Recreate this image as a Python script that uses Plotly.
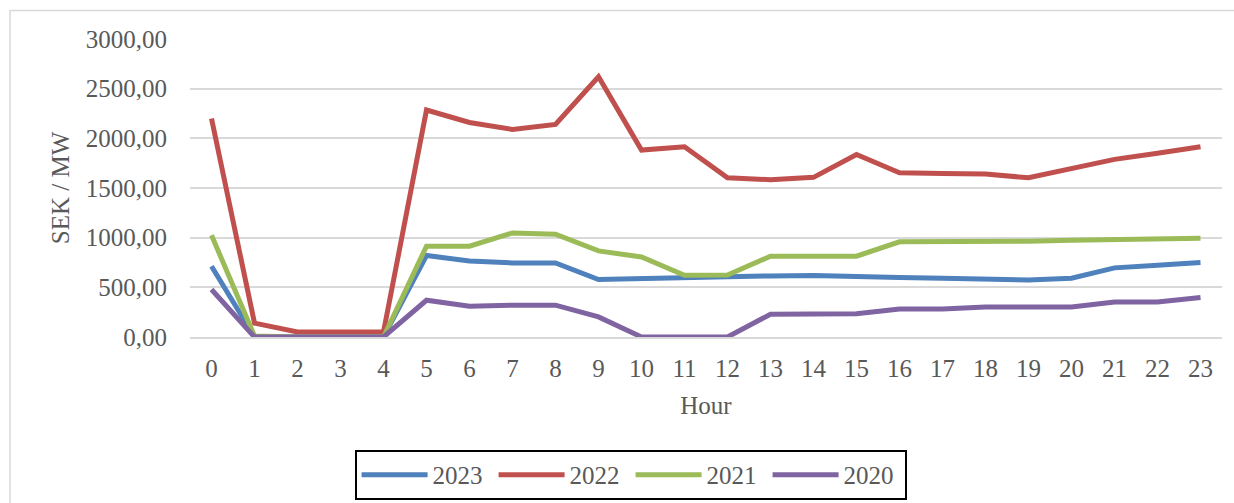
import plotly.graph_objects as go

hours = [str(h) for h in range(24)]

y2023 = [712, 0, 0, 0, 0, 820, 766, 746, 746, 578, 588, 605, 615, 615, 618, 605,
         598, 592, 582, 575, 592, 696, 723, 750]
y2022 = [2200, 140, 50, 50, 50, 2285, 2160, 2090, 2140, 2620, 1882, 1915, 1603, 1583,
         1607, 1838, 1653, 1647, 1640, 1603, 1697, 1788, 1849, 1915]
y2021 = [1025, 10, 0, 0, 0, 914, 914, 1048, 1035, 867, 806, 622, 625, 813, 813, 813,
         958, 958, 958, 964, 975, 985, 995, 995]
y2020 = [478, 0, 0, 0, 0, 370, 309, 320, 320, 202, 0, 0, 0, 229, 229, 235,
         282, 282, 302, 302, 302, 353, 353, 397]

series_names = ["2023", "2022", "2021", "2020"]
series_values = [y2023, y2022, y2021, y2020]
series_colors = ["#4F81BD", "#C0504D", "#9BBB59", "#8064A2"]

y_ticks = [0, 500, 1000, 1500, 2000, 2500, 3000]

FONT = "Liberation Serif"
TXT = "#595959"
GRID = "#D9D9D9"
FS = 25

fig = go.Figure()
for name, vals, col in zip(series_names, series_values, series_colors):
    fig.add_trace(go.Scatter(x=hours, y=vals, name=name, mode="lines",
                             line=dict(color=col, width=5)))

fig.update_layout(
    width=1234, height=503,
    margin=dict(l=190, r=12, t=39, b=166, autoexpand=False),
    paper_bgcolor="white", plot_bgcolor="white",
    separators=", ",
    font=dict(family=FONT, size=FS, color=TXT),
    showlegend=True,
    legend=dict(orientation="h", xref="container", yref="container",
                x=0.511, xanchor="center", y=0.1054, yanchor="top",
                bordercolor="black", borderwidth=2, font=dict(size=FS, color=TXT),
                itemwidth=66, entrywidth=56, traceorder="normal",
                itemclick=False),
    xaxis=dict(type="category", range=[-0.5, 23.5], showgrid=False, zeroline=False,
               automargin=False,
               showline=True, linecolor=GRID, linewidth=1.5,
               ticks="", ticklabelstandoff=8,
               title=dict(text="Hour", standoff=16, font=dict(size=FS, color=TXT)),
               tickfont=dict(size=FS, color=TXT)),
    yaxis=dict(range=[0, 3000], tickvals=y_ticks, tickformat=".2f",
               automargin=False,
               showgrid=True, gridcolor=GRID, gridwidth=1.5, zeroline=False,
               ticks="", ticklabelstandoff=22,
               title=dict(text="SEK / MW", standoff=9, font=dict(size=FS, color=TXT)),
               tickfont=dict(size=FS, color=TXT)),
    shapes=[dict(type="rect", xref="paper", yref="paper",
                 x0=-0.1744, x1=1.05, y0=-0.6, y1=1.0956,
                 line=dict(color=GRID, width=1.5), layer="below")],
)

fig.write_html("out.html")
